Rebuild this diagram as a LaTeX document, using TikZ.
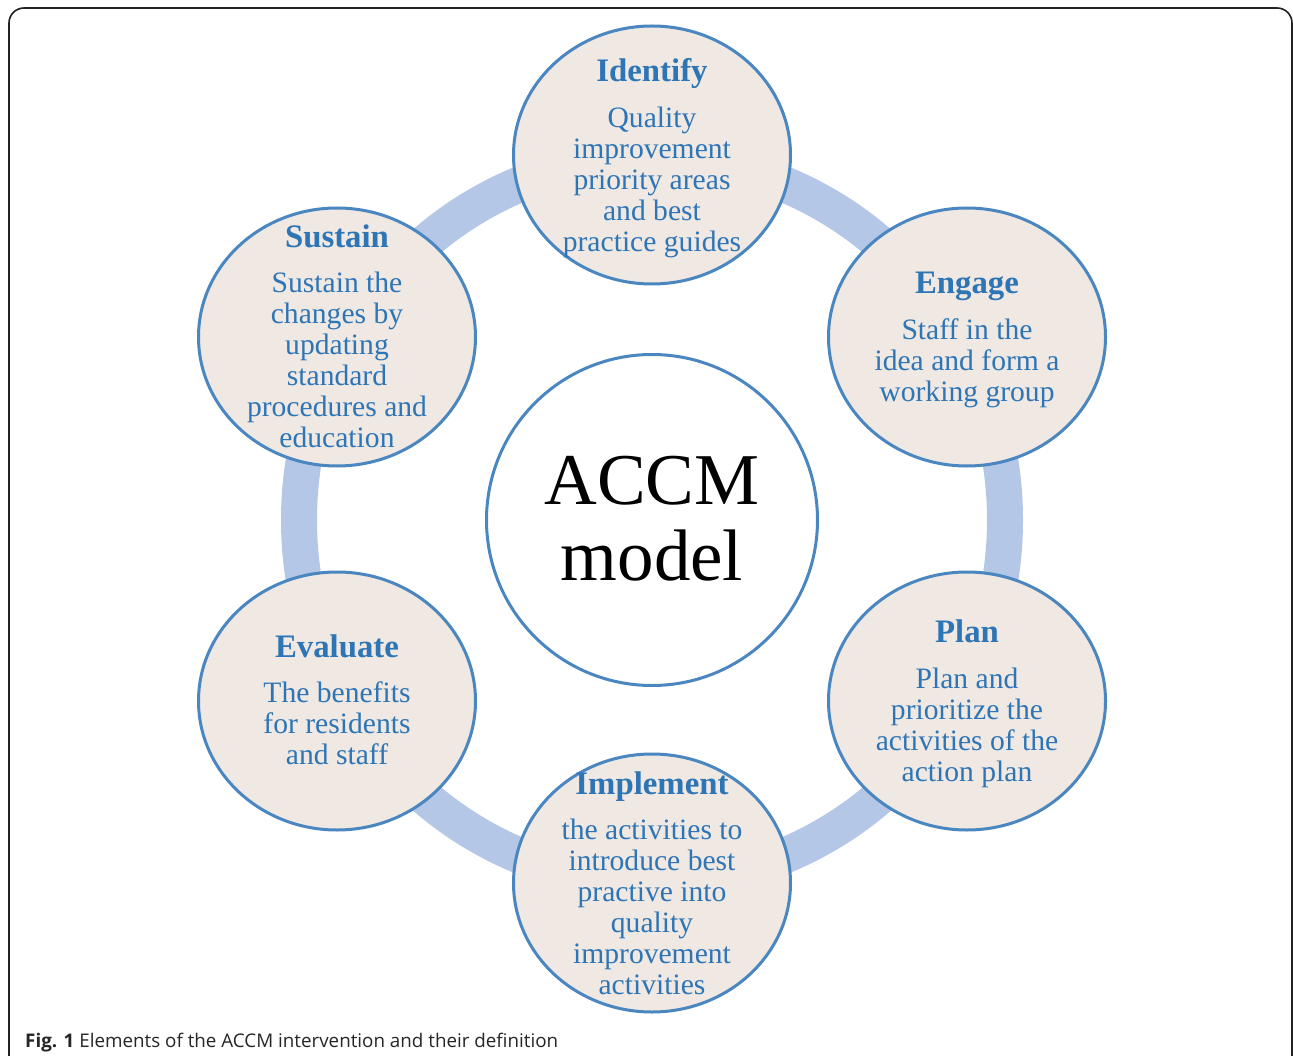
\documentclass[tikz,border=0pt]{standalone}
\usepackage{fontspec}
\setmainfont{Liberation Serif}
\newfontfamily\capfont{Open Sans}
\usetikzlibrary{shapes.geometric}
\definecolor{ringc}{HTML}{B4C7E7}
\definecolor{edgec}{HTML}{4A86C0}
\definecolor{fillc}{HTML}{EFE8E3}
\definecolor{txtc}{HTML}{2E75B6}
\definecolor{framec}{HTML}{222222}
\tikzset{
  ringpath/.style={draw=ringc, line width=36pt},
  stage/.style={ellipse, draw=edgec, fill=fillc, line width=3pt, minimum width=277pt, minimum height=258pt, inner sep=0pt},
  core/.style={circle, draw=edgec, fill=white, line width=3pt, minimum size=331pt, inner sep=0pt},
  ttl/.style={anchor=base, inner sep=0pt, text=txtc, font=\fontsize{32.8}{34}\selectfont\bfseries},
  bdy/.style={anchor=base, inner sep=0pt, text=txtc, align=center, font=\fontsize{29.6}{31}\selectfont},
  coretext/.style={anchor=base, inner sep=0pt, text=black, align=center, font=\fontsize{73}{76}\selectfont},
  framebox/.style={draw=framec, line width=1.6pt, rounded corners=15pt},
  captext/.style={anchor=base west, inner sep=0pt, text=black!85, font=\capfont\fontsize{18.8}{22}\selectfont}
}
\begin{document}
\begin{tikzpicture}[x=1pt,y=-1pt]
\useasboundingbox (0,0) rectangle (1293,1056);
\clip (0,0) rectangle (1293,1056);
\fill[white] (0,0) rectangle (1293,1056);
\draw[framebox] (9,8) rectangle (1292,1100);
\coordinate (ctr) at (652,520);
\draw[ringpath] (ctr) ellipse [x radius=353pt, y radius=362pt];
\node[core] (accm) at (ctr) {};
\node[stage] (identify) at (652,155) {};
\node[stage] (engage) at (967,337) {};
\node[stage] (plan) at (967,701) {};
\node[stage] (implement) at (652,883) {};
\node[stage] (evaluate) at (337,701) {};
\node[stage] (sustain) at (337,337) {};
% texts (multi-line nodes: base = baseline of last line)
\node[coretext] (accmtext) at (652,580) {ACCM\\model};
\node[ttl] (identifyT) at (652,82) {Identify};
\node[bdy] (identifyB) at (652,251.5) {Quality\\improvement\\priority areas\\and best\\practice guides};
\node[ttl] (engageT) at (967,294) {Engage};
\node[bdy] (engageB) at (967,401.3) {Staff in the\\idea and form a\\working group};
\node[ttl] (planT) at (967,642) {Plan};
\node[bdy] (planB) at (967,781) {Plan and\\prioritize the\\activities of the\\action plan};
\node[ttl] (implementT) at (652,794.3) {Implement};
\node[bdy] (implementB) at (652,994.3) {the activities to\\introduce best\\practive into\\quality\\improvement\\activities};
\node[ttl] (evaluateT) at (337,657.5) {Evaluate};
\node[bdy] (evaluateB) at (337,764.5) {The benefits\\for residents\\and staff};
\node[ttl] (sustainT) at (337,247.7) {Sustain};
\node[bdy] (sustainB) at (337,447.7) {Sustain the\\changes by\\updating\\standard\\procedures and\\education};
\node[captext] (caption) at (25,1047) {\textbf{Fig. 1} Elements of the ACCM intervention and their definition};
\end{tikzpicture}
\end{document}
